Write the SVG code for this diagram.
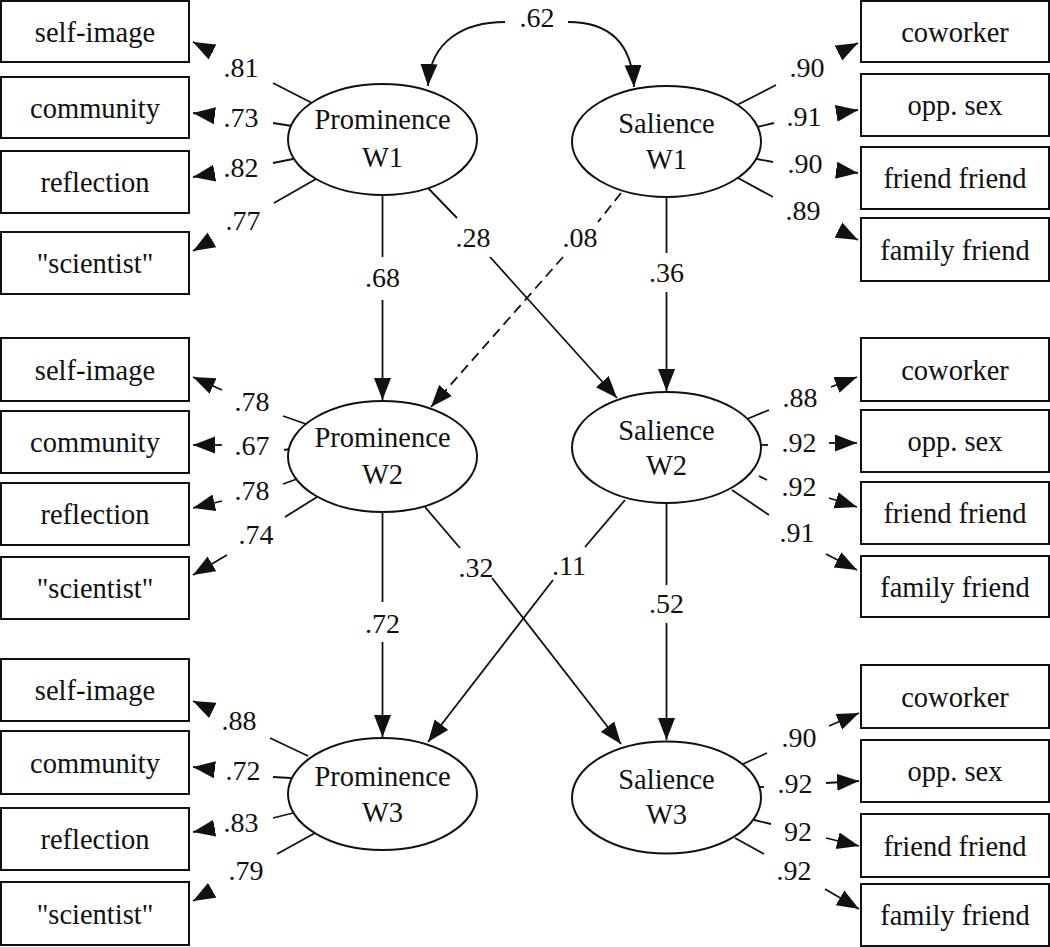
<svg xmlns="http://www.w3.org/2000/svg" width="1050" height="947" viewBox="0 0 1050 947">
<style>
text{font-family:"Liberation Serif","Times New Roman",serif;fill:#111;text-anchor:middle}
.bt{font-size:28.5px}
.et{font-size:28.5px}
.lb{font-size:28px}
.box{fill:#fff;stroke:#111;stroke-width:2}
.ell{fill:#fff;stroke:#111;stroke-width:2}
.ln{fill:none;stroke:#111;stroke-width:1.8}
.ar{fill:none;stroke:#111;stroke-width:1.8;marker-end:url(#ah)}
.dash{stroke-dasharray:10,6}
</style>
<defs>
<marker id="ah" markerWidth="22" markerHeight="18" refX="22" refY="9" orient="auto" markerUnits="userSpaceOnUse">
<path d="M0,0.5 L22,9 L0,17.5 z" fill="#111"/>
</marker>
</defs>
<rect width="1050" height="947" fill="#fff"/>

<g id="connectors">
<!-- loadings P1 -->
<path class="ln" d="M312,103 L273,83"/><path class="ar" d="M212.6,52 L193,42"/>
<path class="ln" d="M292,126 L273,123"/><path class="ar" d="M214.8,115.7 L193,113"/>
<path class="ln" d="M293,159 L273,163"/><path class="ar" d="M214.7,173.2 L193,177"/>
<path class="ln" d="M316,179 L274,203"/><path class="ar" d="M211.9,239.8 L193,251"/>
<!-- loadings P2 -->
<path class="ln" d="M306,424 L283,416"/><path class="ar" d="M222,390 L193,377"/>
<path class="ln" d="M290,449 L284,450"/><path class="ar" d="M222,445 L193,445"/>
<path class="ln" d="M297,479 L283,484"/><path class="ar" d="M222,501 L193,508"/>
<path class="ln" d="M317,497 L285,517"/><path class="ar" d="M227,555 L193,575"/>
<!-- loadings P3 -->
<path class="ln" d="M308,756 L270,738"/><path class="ar" d="M212.8,710.5 L193,701"/>
<path class="ln" d="M291,778 L273,777"/><path class="ar" d="M214.8,769.7 L193,767"/>
<path class="ln" d="M293,813 L273,818"/><path class="ar" d="M214.7,828.2 L193,832"/>
<path class="ln" d="M315,833 L277,854"/><path class="ar" d="M212.2,890.3 L193,901"/>
<!-- loadings S1 -->
<path class="ln" d="M737,105 L776,85"/><path class="ar" d="M838.4,53 L858,43"/>
<path class="ln" d="M757,127 L774,123"/><path class="ar" d="M836.3,113.4 L858,110"/>
<path class="ln" d="M757,159 L773,162"/><path class="ar" d="M836.2,170.2 L858,173"/>
<path class="ln" d="M738,178 L773,197"/><path class="ar" d="M838.4,230.1 L858,240"/>
<!-- loadings S2 -->
<path class="ln" d="M747,419 L769,410"/><path class="ar" d="M831,387 L857,377"/>
<path class="ln" d="M758,445 L768,445"/><path class="ar" d="M829,443 L857,443"/>
<path class="ln" d="M759,476 L767,480"/><path class="ar" d="M829,498 L857,507"/>
<path class="ln" d="M732,490 L769,515"/><path class="ar" d="M826,554 L857,570"/>
<!-- loadings S3 -->
<path class="ln" d="M743,764 L767,753"/><path class="ar" d="M829,726 L859,713"/>
<path class="ln" d="M758,787 L764,787"/><path class="ar" d="M826,783 L859,781"/>
<path class="ln" d="M754,820 L771,824"/><path class="ar" d="M826,838 L859,846"/>
<path class="ln" d="M735,838 L764,854"/><path class="ar" d="M825,889 L859,909"/>
<!-- covariance .62 -->
<path class="ar" d="M505,22 C465,22 430,40 428,86"/>
<path class="ar" d="M568,22 C608,22 632,42 634,87"/>
<!-- structural paths -->
<path class="ln" d="M382.5,195 L382.5,257"/><path class="ar" d="M382.5,300 L382.5,400"/>
<path class="ln" d="M428,188 L457,218"/><path class="ar" d="M490,257 L617,398"/>
<path class="ln dash" d="M621,193 L598,222"/><path class="ar dash" d="M563,257 L431,407"/>
<path class="ln" d="M666.5,197 L666.5,253"/><path class="ar" d="M666.5,292 L666.5,391"/>
<path class="ln" d="M382.5,512 L382.5,602"/><path class="ar" d="M382.5,642 L382.5,737"/>
<path class="ln" d="M425,507 L460,548"/><path class="ar" d="M492,578 L621,744"/>
<path class="ln" d="M625,500 L585,547"/><path class="ar" d="M553,580 L428,742"/>
<path class="ln" d="M666.5,503 L666.5,585"/><path class="ar" d="M666.5,623 L666.5,740"/>
</g>

<g id="labels">
<text class="lb" x="537" y="27">.62</text>
<text class="lb" x="241" y="77">.81</text>
<text class="lb" x="241" y="127">.73</text>
<text class="lb" x="241" y="177">.82</text>
<text class="lb" x="243" y="230">.77</text>
<text class="lb" x="252" y="411">.78</text>
<text class="lb" x="252" y="455">.67</text>
<text class="lb" x="252" y="500">.78</text>
<text class="lb" x="256" y="544">.74</text>
<text class="lb" x="239" y="730">.88</text>
<text class="lb" x="243" y="780">.72</text>
<text class="lb" x="241" y="832">.83</text>
<text class="lb" x="246" y="880">.79</text>
<text class="lb" x="807" y="77">.90</text>
<text class="lb" x="804" y="126">.91</text>
<text class="lb" x="805" y="173">.90</text>
<text class="lb" x="803" y="220">.89</text>
<text class="lb" x="800" y="407">.88</text>
<text class="lb" x="799" y="452">.92</text>
<text class="lb" x="799" y="496">.92</text>
<text class="lb" x="797" y="542">.91</text>
<text class="lb" x="799" y="747">.90</text>
<text class="lb" x="795" y="793">.92</text>
<text class="lb" x="798" y="841">92</text>
<text class="lb" x="794" y="880">.92</text>
<text class="lb" x="382.5" y="287">.68</text>
<text class="lb" x="473" y="247">.28</text>
<text class="lb" x="580" y="247">.08</text>
<text class="lb" x="666.5" y="282">.36</text>
<text class="lb" x="382.5" y="633">.72</text>
<text class="lb" x="476" y="577">.32</text>
<text class="lb" x="569" y="575">.11</text>
<text class="lb" x="666.5" y="613">.52</text>
</g>

<g id="prominence-w1"><ellipse class="ell" cx="382.5" cy="139.5" rx="94.5" ry="55.5"/><text class="et" x="382.5" y="129">Prominence</text><text class="et" x="382.5" y="167">W1</text></g>
<g id="salience-w1"><ellipse class="ell" cx="666.5" cy="141.5" rx="94.5" ry="55.5"/><text class="et" x="666.5" y="133">Salience</text><text class="et" x="666.5" y="169">W1</text></g>
<g id="prominence-w2"><ellipse class="ell" cx="382.5" cy="456.5" rx="94.5" ry="55.5"/><text class="et" x="382.5" y="447">Prominence</text><text class="et" x="382.5" y="484">W2</text></g>
<g id="salience-w2"><ellipse class="ell" cx="666.5" cy="447.5" rx="94.5" ry="55.5"/><text class="et" x="666.5" y="440">Salience</text><text class="et" x="666.5" y="475">W2</text></g>
<g id="prominence-w3"><ellipse class="ell" cx="382.5" cy="794" rx="94.5" ry="56"/><text class="et" x="382.5" y="786">Prominence</text><text class="et" x="382.5" y="822">W3</text></g>
<g id="salience-w3"><ellipse class="ell" cx="666.5" cy="797.5" rx="94.5" ry="56"/><text class="et" x="666.5" y="789">Salience</text><text class="et" x="666.5" y="824">W3</text></g>

<g id="l1-self-image"><rect class="box" x="1" y="1" width="188" height="61"/><text class="bt" x="95" y="41.5">self-image</text></g>
<g id="l1-community"><rect class="box" x="1" y="77" width="188" height="61"/><text class="bt" x="95" y="117.5">community</text></g>
<g id="l1-reflection"><rect class="box" x="1" y="151" width="188" height="62"/><text class="bt" x="95" y="192">reflection</text></g>
<g id="l1-scientist"><rect class="box" x="1" y="232" width="188" height="62"/><text class="bt" x="95" y="273">"scientist"</text></g>

<g id="l2-self-image"><rect class="box" x="1" y="338" width="188" height="63"/><text class="bt" x="95" y="379.5">self-image</text></g>
<g id="l2-community"><rect class="box" x="1" y="411" width="188" height="62"/><text class="bt" x="95" y="452">community</text></g>
<g id="l2-reflection"><rect class="box" x="1" y="483" width="188" height="62"/><text class="bt" x="95" y="524">reflection</text></g>
<g id="l2-scientist"><rect class="box" x="1" y="557" width="188" height="62"/><text class="bt" x="95" y="598">"scientist"</text></g>

<g id="l3-self-image"><rect class="box" x="1" y="659" width="188" height="62"/><text class="bt" x="95" y="700">self-image</text></g>
<g id="l3-community"><rect class="box" x="1" y="731" width="188" height="63"/><text class="bt" x="95" y="772.5">community</text></g>
<g id="l3-reflection"><rect class="box" x="1" y="808" width="188" height="62"/><text class="bt" x="95" y="849">reflection</text></g>
<g id="l3-scientist"><rect class="box" x="1" y="882" width="188" height="63"/><text class="bt" x="95" y="923.5">"scientist"</text></g>

<g id="r1-coworker"><rect class="box" x="861" y="1" width="188" height="61"/><text class="bt" x="955" y="41.5">coworker</text></g>
<g id="r1-opp-sex"><rect class="box" x="861" y="74" width="188" height="62"/><text class="bt" x="955" y="115">opp. sex</text></g>
<g id="r1-friend-friend"><rect class="box" x="861" y="147" width="188" height="62"/><text class="bt" x="955" y="188">friend friend</text></g>
<g id="r1-family-friend"><rect class="box" x="861" y="218" width="188" height="63"/><text class="bt" x="955" y="259.5">family friend</text></g>

<g id="r2-coworker"><rect class="box" x="861" y="338" width="188" height="63"/><text class="bt" x="955" y="379.5">coworker</text></g>
<g id="r2-opp-sex"><rect class="box" x="861" y="410" width="188" height="62"/><text class="bt" x="955" y="451">opp. sex</text></g>
<g id="r2-friend-friend"><rect class="box" x="861" y="482" width="188" height="62"/><text class="bt" x="955" y="523">friend friend</text></g>
<g id="r2-family-friend"><rect class="box" x="861" y="556" width="188" height="61"/><text class="bt" x="955" y="596.5">family friend</text></g>

<g id="r3-coworker"><rect class="box" x="861" y="665" width="188" height="63"/><text class="bt" x="955" y="706.5">coworker</text></g>
<g id="r3-opp-sex"><rect class="box" x="861" y="740" width="188" height="62"/><text class="bt" x="955" y="781">opp. sex</text></g>
<g id="r3-friend-friend"><rect class="box" x="861" y="814" width="188" height="63"/><text class="bt" x="955" y="855.5">friend friend</text></g>
<g id="r3-family-friend"><rect class="box" x="861" y="884" width="188" height="62"/><text class="bt" x="955" y="925">family friend</text></g>
</svg>
